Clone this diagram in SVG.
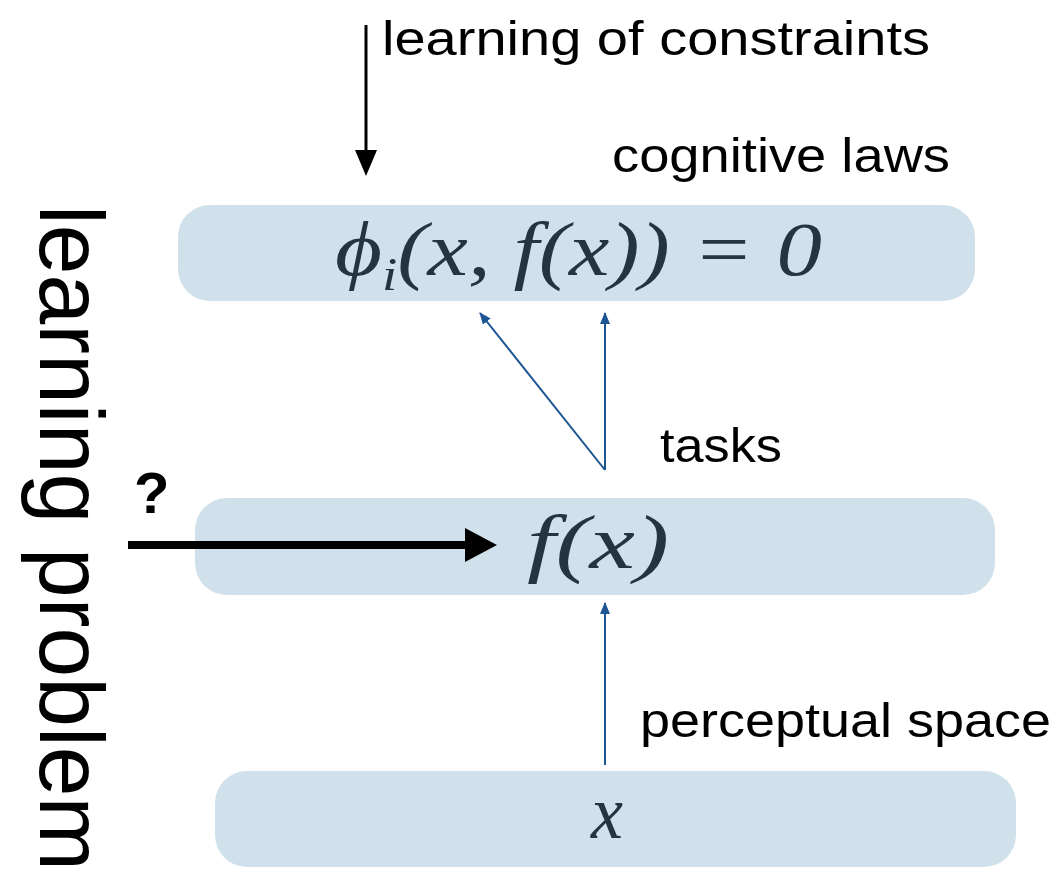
<svg xmlns="http://www.w3.org/2000/svg" width="1064" height="877" viewBox="0 0 1064 877">
<style>
.box{fill:#d0e1ec}
.math{font-family:"Liberation Serif",serif;font-style:italic;fill:#263340;font-size:76px}
.lbl{font-family:"Liberation Sans",sans-serif;fill:#000;font-size:48px}
.blue{stroke:#1c5591;stroke-width:2;fill:none}
.blk{stroke:#000;fill:none}
</style>
<defs>
<marker id="ab" markerWidth="12" markerHeight="10" refX="11" refY="5" orient="auto" markerUnits="userSpaceOnUse">
<path d="M0,0 L12,5 L0,10 Z" fill="#1c5591"/>
</marker>
</defs>
<rect width="1064" height="877" fill="#fff"/>
<g id="node-constraints">
<rect class="box" x="178" y="205" width="797" height="96" rx="32"/>
<text class="math" x="335" y="275" textLength="487" lengthAdjust="spacingAndGlyphs">ϕ<tspan font-size="46" dy="15">i</tspan><tspan dy="-15">(x, f(x)) = 0</tspan></text>
<text class="lbl" x="612" y="172" textLength="338" lengthAdjust="spacingAndGlyphs">cognitive laws</text>
</g>
<g id="node-f">
<rect class="box" x="195" y="498" width="800" height="97" rx="32"/>
<text class="math" x="527" y="568" textLength="142" lengthAdjust="spacingAndGlyphs">f(x)</text>
</g>
<g id="node-x">
<rect class="box" x="215" y="771" width="801" height="96" rx="32"/>
<text class="math" x="591" y="838" textLength="32" lengthAdjust="spacingAndGlyphs">x</text>
</g>
<g id="labels">
<text class="lbl" x="382" y="55" textLength="548" lengthAdjust="spacingAndGlyphs">learning of constraints</text>
<text class="lbl" x="660" y="462" textLength="122" lengthAdjust="spacingAndGlyphs">tasks</text>
<text class="lbl" x="640" y="737" textLength="411" lengthAdjust="spacingAndGlyphs">perceptual space</text>
<text x="134" y="513" font-family="Liberation Sans,sans-serif" font-weight="bold" font-size="58" fill="#000">?</text>
<text transform="translate(40,205) rotate(90)" x="0" y="0" font-family="Liberation Sans,sans-serif" font-size="90" fill="#000" textLength="666" lengthAdjust="spacingAndGlyphs">learning problem</text>
</g>
<g id="connectors">
<line class="blue" x1="605" y1="470" x2="605" y2="313" marker-end="url(#ab)"/>
<line class="blue" x1="605" y1="470" x2="480" y2="313" marker-end="url(#ab)"/>
<line class="blue" x1="605" y1="765" x2="605" y2="603" marker-end="url(#ab)"/>
<line class="blk" x1="366" y1="25" x2="366" y2="152" stroke-width="3"/>
<path d="M355,150 L377,150 L366,176 Z" fill="#000"/>
<line class="blk" x1="128" y1="545" x2="468" y2="545" stroke-width="8"/>
<path d="M465,528 L497,545 L465,562 Z" fill="#000"/>
</g>
</svg>
